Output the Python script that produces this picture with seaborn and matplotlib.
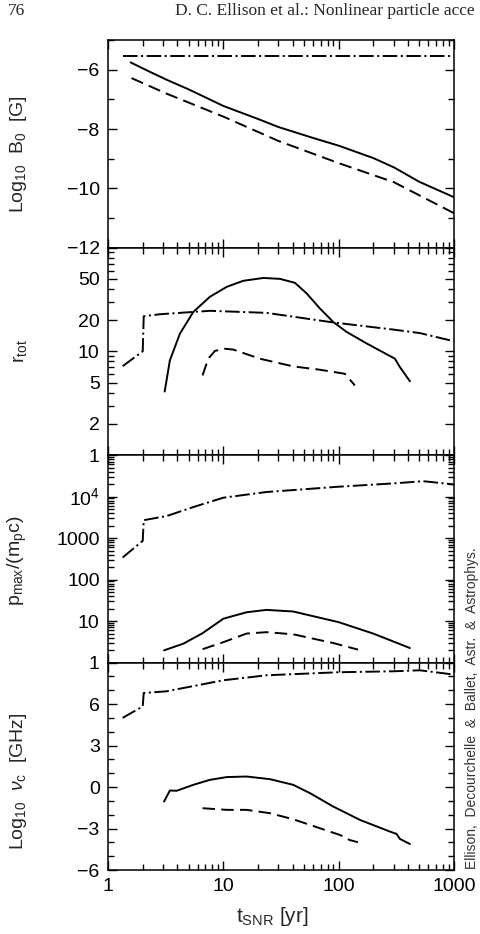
import numpy as np
import pandas as pd
import seaborn as sns
from matplotlib import pyplot as plt
from matplotlib import ticker

# painel 1: Log10 B0 [G]
b_t_solid = [1.57, 2.2, 3.2, 5.0, 10, 20, 30, 60, 100, 200, 300, 500, 1000]
b_solid = [-5.75, -6.03, -6.33, -6.66, -7.22, -7.66, -7.93, -8.30, -8.56, -8.98, -9.29, -9.78, -10.30]
b_t_dash = [1.6, 3.2, 10, 30, 100, 300, 1000]
b_dash = [-6.28, -6.80, -7.58, -8.40, -9.15, -9.79, -10.84]
b_t_dd = [1.35, 1000]
b_dd = [-5.52, -5.52]

# painel 2: r_tot
r_t_dd = [1.34, 2.0, 2.04, 2.82, 7.65, 23.7, 89.6, 300, 506, 1000]
r_dd = [7.2, 10.0, 21.8, 22.8, 24.6, 23.5, 19.0, 16.2, 15.0, 12.5]
r_t_solid = [3.1, 3.44, 4.2, 5.49, 7.65, 10.7, 14.9, 22.2, 30.9, 41.7, 52.7, 68.7, 89.6,
             117, 175, 307, 339, 414]
r_solid = [4.1, 8.2, 14.8, 24, 33.6, 41.9, 47.9, 51.0, 50.0, 45.8, 36.2, 25.9, 19.2,
           15.4, 11.9, 8.5, 7.05, 5.15]
r_t_dash = [6.6, 7.4, 8.45, 10.3, 12.2, 20.7, 40.3, 68.7, 113, 138]
r_dash = [5.86, 8.5, 10.1, 10.6, 10.4, 8.5, 7.16, 6.65, 6.08, 4.69]

# painel 3: p_max/(m_p c)
p_t_dd = [1.34, 2.0, 2.04, 3.23, 5.5, 10, 23.7, 100, 300, 540, 1000]
p_dd = [340, 860, 2700, 3400, 5600, 9400, 12900, 17300, 20800, 23500, 19600]
p_t_solid = [3.06, 4.5, 6.6, 10, 15.9, 23.7, 40.3, 100, 199, 414]
p_solid = [1.97, 2.85, 5.1, 11.4, 16.3, 18.6, 17, 9.4, 5.0, 2.24]
p_t_dash = [6.6, 10, 15.9, 23.7, 40.3, 89.6, 147]
p_dash = [2.1, 3.1, 5.0, 5.4, 4.8, 2.95, 2.05]

# painel 4: Log10 nu_c [GHz]
nu_t_dd = [1.34, 2.0, 2.04, 3.2, 10, 23.7, 100, 300, 505, 1000]
nu_dd = [5.0, 5.83, 6.8, 6.92, 7.72, 8.08, 8.30, 8.37, 8.44, 8.13]
nu_t_solid = [3.06, 3.44, 3.94, 5.49, 7.65, 10.7, 15.9, 25.3, 40.3, 56.3, 89.6, 153, 278,
              317, 339, 414]
nu_solid = [-1.05, -0.25, -0.27, 0.16, 0.52, 0.72, 0.76, 0.57, 0.16, -0.44, -1.41, -2.38,
            -3.22, -3.39, -3.75, -4.12]
nu_t_dash = [6.6, 10.7, 15.9, 25.3, 40.3, 68.7, 102, 113, 124, 147]
nu_dash = [-1.53, -1.65, -1.65, -1.89, -2.33, -2.98, -3.46, -3.63, -3.83, -3.99]

x_ticks = [1, 10, 100, 1000]

sns.set_style("ticks")
plt.rcParams['font.family'] = ['Liberation Sans', 'DejaVu Sans']
plt.rcParams['mathtext.fontset'] = 'custom'
plt.rcParams['mathtext.rm'] = 'Liberation Sans'
plt.rcParams['mathtext.it'] = 'Liberation Sans:italic'
plt.rcParams['lines.scale_dashes'] = False
plt.rcParams['axes.linewidth'] = 1.1
plt.rcParams['axes.edgecolor'] = 'black'

SOLID = '-'
DASH = (0, (9, 4.5))
DASHDOT = (0, (10.5, 2.5, 1.5, 2.5))

fig, axes = plt.subplots(4, 1, figsize=(4.8, 9.34), dpi=100, sharex=True)
plt.subplots_adjust(left=0.225, right=0.946, top=0.957, bottom=0.0685, hspace=0)


def curva(ax, t, v, ls):
    df = pd.DataFrame({'t': t, 'v': v})
    sns.lineplot(data=df, x='t', y='v', ax=ax, color='black', linewidth=1.4,
                 linestyle=ls, estimator=None, sort=False)


paineis = [
    (axes[0], [(b_t_dd, b_dd, DASHDOT), (b_t_solid, b_solid, SOLID), (b_t_dash, b_dash, DASH)]),
    (axes[1], [(r_t_dd, r_dd, DASHDOT), (r_t_solid, r_solid, SOLID), (r_t_dash, r_dash, DASH)]),
    (axes[2], [(p_t_dd, p_dd, DASHDOT), (p_t_solid, p_solid, SOLID), (p_t_dash, p_dash, DASH)]),
    (axes[3], [(nu_t_dd, nu_dd, DASHDOT), (nu_t_solid, nu_solid, SOLID), (nu_t_dash, nu_dash, DASH)]),
]
for ax, series in paineis:
    for t, v, ls in series:
        curva(ax, t, v, ls)

for ax in axes:
    ax.set_xscale('log')
    ax.set_xlim(1, 1000)
    ax.xaxis.set_major_locator(ticker.FixedLocator(x_ticks))
    ax.xaxis.set_minor_locator(ticker.LogLocator(base=10, subs=np.arange(2, 10)))
    ax.xaxis.set_minor_formatter(ticker.NullFormatter())
    ax.tick_params(which='both', direction='in', top=True, right=True,
                   labelsize=14, width=1.0, colors='black', pad=6)
    ax.tick_params(which='major', length=6.5)
    ax.tick_params(which='minor', length=4)
    ax.set_xlabel('')

# painel 1
ax = axes[0]
ax.set_ylim(-12, -5)
ax.yaxis.set_major_locator(ticker.MultipleLocator(2))
ax.yaxis.set_minor_locator(ticker.MultipleLocator(1))
ax.set_ylabel('Log$_{10}$  B$_0$  [G]', fontsize=14)
ax.yaxis.set_label_coords(-0.228, 0.45)

# painel 2
ax = axes[1]
ax.set_yscale('log')
ax.set_ylim(1, 100)
r_ticks = [1, 2, 5, 10, 20, 50, 100]
ax.yaxis.set_major_locator(ticker.FixedLocator(r_ticks))
ax.yaxis.set_minor_locator(ticker.FixedLocator([3, 4, 6, 7, 8, 9, 30, 40, 60, 70, 80, 90]))
ax.yaxis.set_major_formatter(ticker.FuncFormatter(lambda v, p: '' if v >= 100 else '%g' % v))
ax.yaxis.set_minor_formatter(ticker.NullFormatter())
ax.set_ylabel(r'r$_{\mathrm{tot}}$', fontsize=14)
ax.yaxis.set_label_coords(-0.228, 0.5)

# painel 3
ax = axes[2]
ax.set_yscale('log')
ax.set_ylim(1, 1e5)
p_labels = {1: '1', 10: '10', 100: '100', 1000: '1000', 10000: '10$^4$'}
ax.yaxis.set_major_locator(ticker.FixedLocator([1, 10, 100, 1000, 1e4, 1e5]))
ax.yaxis.set_minor_locator(ticker.LogLocator(base=10, subs=np.arange(2, 10), numticks=20))
ax.yaxis.set_major_formatter(ticker.FuncFormatter(lambda v, p: p_labels.get(int(round(v)), '')))
ax.yaxis.set_minor_formatter(ticker.NullFormatter())
ax.set_ylabel(r'p$_{\mathrm{max}}$/(m$_{\mathrm{p}}$c)', fontsize=14)
ax.yaxis.set_label_coords(-0.228, 0.49)

# painel 4
ax = axes[3]
ax.set_ylim(-6, 9)
ax.yaxis.set_major_locator(ticker.MultipleLocator(3))
ax.yaxis.set_minor_locator(ticker.MultipleLocator(1))
ax.yaxis.set_major_formatter(ticker.FuncFormatter(lambda v, p: '' if v > 8 else '%d' % v if v >= 0 else '\u2212%d' % -v))
ax.set_ylabel(r'Log$_{10}$  $\nu_{\mathrm{c}}$  [GHz]', fontsize=14)
ax.yaxis.set_label_coords(-0.228, 0.43)
ax.xaxis.set_major_formatter(ticker.FuncFormatter(lambda v, p: '%g' % v))
ax.set_xlabel(r't$_{\mathrm{SNR}}$ [yr]', fontsize=15)
ax.xaxis.set_label_coords(0.474, -0.17)
ax.xaxis.label.set_va('top')

# cabeçalho da página e nota lateral
fig.text(8 / 480, 1 - 11 / 934, '76', family='Liberation Serif', fontsize=12.5, va='center')
fig.text(175 / 480, 1 - 11 / 934, 'D. C. Ellison et al.: Nonlinear particle acce',
         family='Liberation Serif', fontsize=12.5, va='center')
fig.text(472 / 480, 1 - 869 / 934, 'Ellison,  Decourchelle  &  Ballet,  Astr.  &  Astrophys.',
         rotation=90, ha='center', va='bottom', fontsize=10, color='#333333')

plt.savefig('out.png', dpi=100)
